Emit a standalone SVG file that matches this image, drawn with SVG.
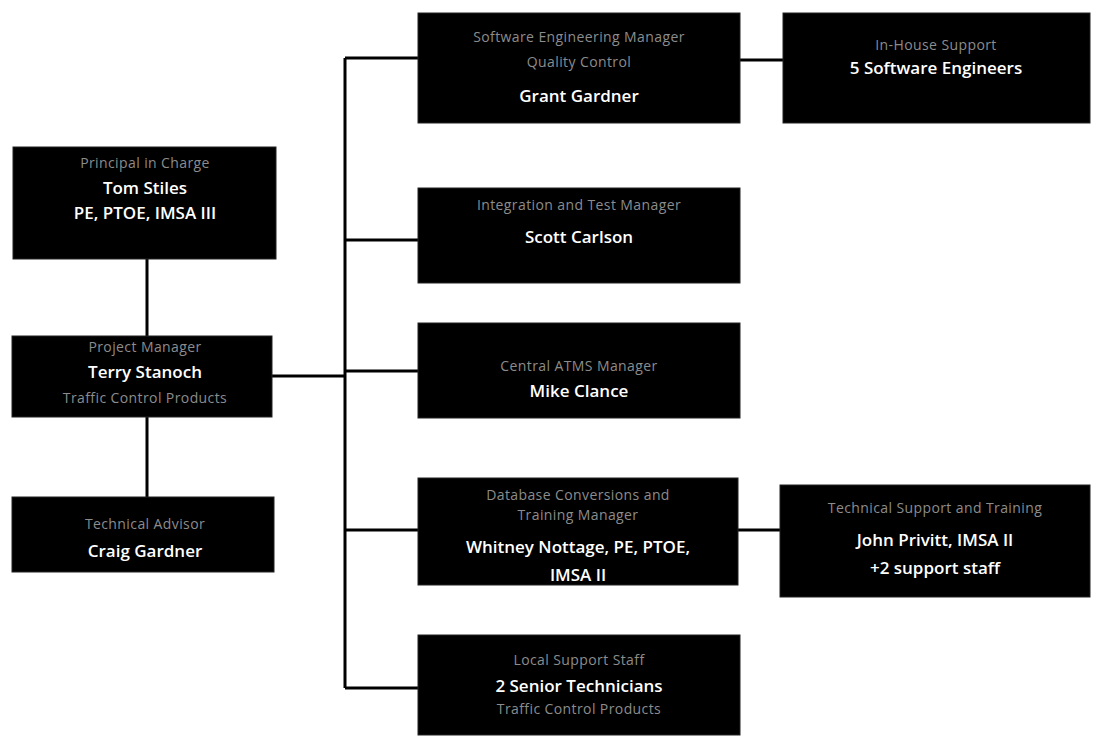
<svg xmlns="http://www.w3.org/2000/svg" width="1095" height="747" viewBox="0 0 1095 747">
<style>
.box{fill:#000;stroke:#222;stroke-width:1}
.sub{font-family:"Open Sans","Liberation Sans",sans-serif;font-size:14px;fill:#8c8c8c;text-anchor:middle;letter-spacing:0.4px}
.name{font-family:"Open Sans","Liberation Sans",sans-serif;font-size:17px;font-weight:600;fill:#fff;text-anchor:middle}
.ln{stroke:#000;stroke-width:3;fill:none}
</style>
<rect width="1095" height="747" fill="#fff"/>
<g id="connectors">
<path class="ln" d="M147 259V336M147 417V497M272 376H345M345 58V688M345 58H420M345 240H420M345 371H420M345 530H420M345 688H420M740 60H785M738 530H782"/>
</g>
<g id="principal">
<rect class="box" x="13" y="147" width="263" height="112"/>
<text class="sub" x="145" y="168">Principal in Charge</text>
<text class="name" x="145" y="194">Tom Stiles</text>
<text class="name" x="145" y="219">PE, PTOE, IMSA III</text>
</g>
<g id="pm">
<rect class="box" x="12" y="336" width="260" height="81"/>
<text class="sub" x="145" y="352">Project Manager</text>
<text class="name" x="145" y="378">Terry Stanoch</text>
<text class="sub" x="145" y="403">Traffic Control Products</text>
</g>
<g id="advisor">
<rect class="box" x="12" y="497" width="262" height="75"/>
<text class="sub" x="145" y="529">Technical Advisor</text>
<text class="name" x="145" y="557">Craig Gardner</text>
</g>
<g id="swmgr">
<rect class="box" x="418" y="13" width="322" height="110"/>
<text class="sub" x="579" y="42">Software Engineering Manager</text>
<text class="sub" x="579" y="67">Quality Control</text>
<text class="name" x="579" y="102">Grant Gardner</text>
</g>
<g id="swengs">
<rect class="box" x="783" y="13" width="307" height="110"/>
<text class="sub" x="936" y="50">In-House Support</text>
<text class="name" x="936" y="74">5 Software Engineers</text>
</g>
<g id="integration">
<rect class="box" x="418" y="188" width="322" height="95"/>
<text class="sub" x="579" y="210">Integration and Test Manager</text>
<text class="name" x="579" y="243">Scott Carlson</text>
</g>
<g id="atms">
<rect class="box" x="418" y="323" width="322" height="95"/>
<text class="sub" x="579" y="371">Central ATMS Manager</text>
<text class="name" x="579" y="397">Mike Clance</text>
</g>
<g id="database">
<rect class="box" x="418" y="478" width="320" height="107"/>
<text class="sub" x="578" y="500">Database Conversions and</text>
<text class="sub" x="578" y="520">Training Manager</text>
<text class="name" x="578" y="553">Whitney Nottage, PE, PTOE,</text>
<text class="name" x="578" y="581">IMSA II</text>
</g>
<g id="techsupport">
<rect class="box" x="780" y="485" width="310" height="112"/>
<text class="sub" x="935" y="513">Technical Support and Training</text>
<text class="name" x="935" y="546">John Privitt, IMSA II</text>
<text class="name" x="935" y="574">+2 support staff</text>
</g>
<g id="localsupport">
<rect class="box" x="418" y="635" width="322" height="100"/>
<text class="sub" x="579" y="665">Local Support Staff</text>
<text class="name" x="579" y="692">2 Senior Technicians</text>
<text class="sub" x="579" y="714">Traffic Control Products</text>
</g>
</svg>
